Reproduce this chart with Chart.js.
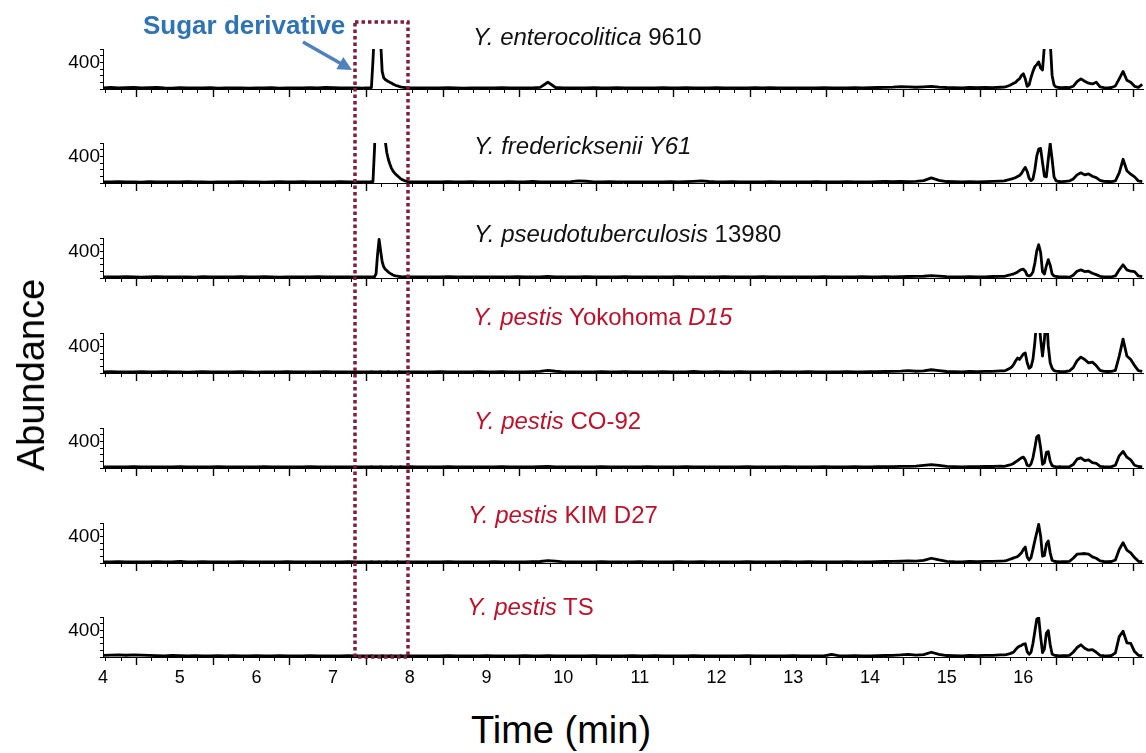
<!DOCTYPE html>
<html>
<head>
<meta charset="utf-8">
<script src="https://cdn.jsdelivr.net/npm/chart.js@4.4.1/dist/chart.umd.min.js"></script>
<style>
  html, body { margin: 0; padding: 0; background: #fff; }
  #fig { position: relative; width: 1146px; height: 753px; overflow: hidden; background: #fff;
         font-family: "Liberation Sans", Arial, Helvetica, sans-serif; }
  #fig canvas { position: absolute; left: 0; }
  .lbl { position: absolute; font-size: 24px; line-height: 1; white-space: nowrap; transform: translateY(-50%); }
  .axt { position: absolute; font-size: 38px; line-height: 1; white-space: nowrap; color: #000; }
  #overlay { pointer-events: none; }
</style>
</head>
<body>
<div id="fig"></div>
<script>
// ---------------- DATA ----------------
// retention time grid (min)
const retentionTimes = [
  4.0,4.1,4.2,4.3,4.4,4.5,4.6,4.7,4.8,4.9, 5.0,5.1,5.2,5.3,5.4,5.5,5.6,5.7,5.8,5.9,
  6.0,6.1,6.2,6.3,6.4,6.5,6.6,6.7,6.8,6.9, 7.0,7.1,7.2,7.3,7.4,
  7.42,7.44,7.46,7.48,7.50,7.52,7.54,7.56,7.58,7.60, 7.62,7.64,7.66,7.68,7.70,7.72,7.74,7.76,7.78,7.80,
  7.82,7.84,7.86,7.88,7.90,7.92,7.94,7.96,7.98,8.00,
  8.1,8.2,8.3,8.4,8.5,8.6,8.7,8.8,8.9,9.0,
  9.1,9.2,9.3,9.4,9.5,9.6,9.7,9.8,9.9,10.0,
  10.1,10.2,10.3,10.4,10.5,10.6,10.7,10.8,10.9,11.0,
  11.1,11.2,11.3,11.4,11.5,11.6,11.7,11.8,11.9,12.0,
  12.1,12.2,12.3,12.4,12.5,12.6,12.7,12.8,12.9,13.0,
  13.1,13.2,13.3,13.4,13.5,13.6,13.7,13.8,13.9,14.0,
  14.1,14.2,14.3,14.4,14.5,14.6,14.7,14.8,14.9,15.0,
  15.1,15.2,15.3,15.4,15.5,15.6,15.7,
  15.75,15.775,15.8,15.825,15.85,15.875,15.9,15.925,15.95,15.975,
  16.0,16.025,16.05,16.075,16.1,16.125,16.15,16.175,16.2,16.225,
  16.25,16.275,16.3,16.325,16.35,16.375,16.4,16.425,16.45,16.475, 16.5,
  16.55,16.6,16.65,16.7,16.75,16.8,16.85,16.9,16.95,17.0,
  17.05,17.1,17.15,17.2,17.25,17.3,17.35,17.4,17.45,17.5, 17.55
];

const enterocolitica9610 = [
  18,22,15,20,25,17,19,23,16,14, 20,18,15,17,19,14,16,18,15,13, 17,16,19,14,15,18,16,20,17,22, 19,15,18,16,14,
  16,15,17,18,22,420,900,1100,1100,1000, 700,260,165,140,125,110,98,88,75,62, 52,45,38,32,27,24,21,19,18,17,
  16,18,15,17,20,16,14,18,17,15,
  16,19,15,17,18,16,24,100,22,17,
  15,18,16,19,15,17,20,16,18,15,
  17,16,19,15,18,20,16,17,15,19,
  16,18,15,17,19,16,20,18,15,17,
  18,16,15,19,17,16,18,20,17,19,
  22,25,28,35,30,26,32,40,28,22,
  20,18,22,19,24,21,26,
  28,35,45,55,70,85,100,130,150,200, 225,150,40,60,170,260,330,360,400,310, 280,650,900,900,700,200,60,30,25,22, 20,
  22,20,40,110,150,115,85,75,100,30, 20,18,22,45,150,260,130,100,40,25, 70
];

const fredericksenii = [
  17,15,19,16,18,14,20,17,15,18, 16,19,15,17,14,18,16,15,19,17, 16,14,18,20,17,15,19,16,18,15, 17,20,16,18,15,
  16,18,15,17,19,20,500,1200,1300,1300, 1250,1150,1000,620,450,350,280,220,180,150, 125,105,85,65,50,40,30,25,20,18,
  17,15,18,16,19,15,17,20,16,18,
  15,17,19,16,18,22,17,15,18,16,
  20,32,26,18,16,19,15,17,18,16,
  15,18,16,19,17,20,24,30,22,17,
  16,19,15,18,17,16,20,17,15,18,
  17,16,19,15,18,17,20,16,18,17,
  19,22,20,24,21,25,35,75,40,22,
  19,17,21,18,20,24,28,
  30,38,45,55,60,70,80,95,110,140, 190,230,170,70,35,60,200,400,500,510, 300,100,90,350,580,350,90,35,25,22, 20,
  25,30,60,120,150,120,135,100,80,40, 25,22,20,30,150,350,180,130,90,30, 20
];

const pseudotuberculosis = [
  16,18,15,19,17,14,16,20,15,17, 18,16,14,19,17,15,18,16,20,15, 17,19,16,14,18,15,17,16,19,15, 18,16,17,15,18,
  17,15,18,16,17,15,18,60,350,570, 400,240,165,130,110,88,72,58,45,36, 30,26,22,20,18,17,19,16,18,17,
  16,18,15,17,19,16,18,15,17,16,
  18,15,17,19,16,18,17,22,18,16,
  15,17,19,16,18,15,17,20,16,18,
  17,15,18,16,19,17,15,18,16,17,
  19,16,18,15,17,20,16,18,17,15,
  18,16,17,19,15,18,16,17,19,16,
  18,20,17,19,22,24,26,35,28,20,
  18,17,19,16,18,22,25,
  25,30,38,45,55,62,75,90,110,125, 130,100,40,30,45,90,220,400,490,380, 90,60,180,270,190,60,30,22,20,18, 15,
  15,12,40,100,120,95,100,70,50,25, 18,15,18,30,120,195,120,100,95,30, 20
];

const pestisYokohoma = [
  17,19,15,18,16,20,17,15,19,16, 18,14,17,19,16,15,18,17,20,16, 14,18,15,17,19,16,18,15,17,20, 16,18,15,17,16,
  16,18,15,17,19,16,18,15,17,16, 19,15,18,17,16,19,15,18,17,16, 18,15,19,17,16,18,15,17,19,16,
  18,15,17,19,16,18,15,17,20,16,
  17,19,15,18,16,20,24,38,26,18,
  16,18,15,17,19,16,18,20,17,15,
  18,16,19,17,15,18,22,17,16,19,
  15,17,19,16,18,17,15,19,16,18,
  17,19,16,18,15,17,20,18,16,19,
  20,22,24,28,35,26,30,48,35,22,
  20,18,22,20,25,24,30,
  30,40,55,70,90,130,180,220,200,240, 280,295,150,70,90,200,450,800,850,500, 250,500,900,400,150,70,35,28,25,22, 20,
  22,30,80,180,235,200,150,160,110,40, 25,22,25,40,250,500,250,200,110,35, 25
];

const pestisCO92 = [
  16,18,15,17,19,16,15,18,17,16, 19,15,17,18,16,20,15,17,16,18, 15,19,17,16,18,15,17,19,16,18, 17,15,18,16,17,
  17,15,18,16,19,17,15,18,16,17, 19,16,18,15,17,16,18,19,16,15, 17,18,16,19,15,17,18,16,17,19,
  16,18,15,17,19,16,18,17,15,18,
  16,19,17,15,18,16,20,24,18,16,
  17,15,18,16,19,17,15,18,16,17,
  19,16,18,15,17,20,16,18,17,15,
  18,16,17,19,15,18,16,17,19,16,
  18,17,15,19,16,18,17,20,18,17,
  19,21,20,23,25,28,40,50,38,24,
  20,18,21,19,23,22,28,
  25,30,38,45,55,70,90,110,130,150, 160,120,40,30,60,150,300,460,480,300, 55,80,230,240,100,35,25,20,18,20, 17,
  18,20,50,130,150,110,120,80,70,25, 20,18,20,40,180,245,160,120,40,22, 18
];

const pestisKIMD27 = [
  17,15,19,16,18,15,17,20,16,18, 24,17,15,19,16,18,17,15,19,16, 18,15,17,16,19,15,18,17,16,18, 15,17,19,16,18,
  16,18,15,17,19,16,18,15,17,19, 16,18,17,15,19,16,18,17,15,16, 18,19,17,15,18,16,17,19,15,18,
  17,15,18,16,19,17,15,18,16,17,
  19,16,18,15,17,19,22,35,28,18,
  16,18,15,17,19,16,18,17,15,19,
  16,18,17,15,19,16,18,20,17,16,
  18,15,17,19,16,18,17,15,19,16,
  17,19,16,18,15,17,19,18,16,18,
  20,22,24,26,30,28,38,70,45,25,
  20,18,22,19,24,23,28,
  30,35,45,55,65,75,85,95,120,150, 200,235,90,45,80,200,330,450,570,400, 100,110,280,325,150,40,25,22,20,18, 20,
  20,25,70,130,135,140,130,90,70,30, 22,20,22,45,200,300,190,150,80,25, 20
];

const pestisTS = [
  25,28,30,26,32,28,24,20,18,22, 19,17,20,16,18,21,17,19,16,18, 20,17,15,19,16,18,17,20,16,18, 15,17,19,16,18,
  17,15,18,16,19,17,18,15,17,16, 18,19,16,17,15,18,16,19,17,15, 18,16,17,19,16,18,15,17,16,18,
  16,18,15,17,19,16,18,15,17,19,
  16,18,17,15,19,16,18,20,17,16,
  18,15,17,19,16,18,17,15,19,16,
  17,19,16,18,15,17,19,16,18,17,
  15,18,16,19,17,15,18,16,17,19,
  16,18,17,15,40,18,16,19,17,18,
  20,22,25,30,38,28,35,70,40,22,
  20,18,22,20,25,24,30,
  30,35,42,50,60,75,110,140,160,170, 190,195,80,40,70,200,380,560,580,300, 65,120,350,390,180,45,28,22,20,18, 20,
  20,25,70,140,180,130,100,110,70,25, 20,18,22,60,300,380,210,200,80,25, 20
];

// panel labels: [text, italic]
const panelLabels = [
  [["Y. enterocolitica", true], [" 9610", false]],
  [["Y. fredericksenii Y61", true]],
  [["Y. pseudotuberculosis", true], [" 13980", false]],
  [["Y. pestis", true], [" Yokohoma ", false], ["D15", true]],
  [["Y. pestis", true], [" CO-92", false]],
  [["Y. pestis", true], [" KIM D27", false]],
  [["Y. pestis", true], [" TS", false]]
];
const panelSeries = [enterocolitica9610, fredericksenii, pseudotuberculosis, pestisYokohoma, pestisCO92, pestisKIMD27, pestisTS];
const timeTickLabels = [4, 5, 6, 7, 8, 9, 10, 11, 12, 13, 14, 15, 16];
const abundanceTickLabels = [400];
const sugarWindow = [7.29, 7.98];

// ---------------- LAYOUT / STYLE ----------------
const FONT = '"Liberation Sans", Arial, Helvetica, sans-serif';
const W = 1146;
const FIRST_BASELINE = 88.5, PANEL_STEP = 94.8;
const AREA_H = 40, PAD_TOP = 10;
const X_MIN = 4, X_MAX = 17.56, Y_MIN = 0, Y_MAX = 590;
const labelLayout = [
  {left: 473, cy: 37}, {left: 474, cy: 146}, {left: 474, cy: 234}, {left: 473, cy: 317},
  {left: 474, cy: 421}, {left: 468, cy: 515}, {left: 467, cy: 607}
];
const labelColors = ['#111', '#111', '#111', '#c0102a', '#c0102a', '#c0102a', '#c0102a'];

const fig = document.getElementById('fig');

// tick marks under each panel (major + minor), drawn through the x scale,
// plus the abundance tick label(s), drawn through the y scale
const axisMarks = {
  id: 'axisMarks',
  afterDraw(chart) {
    const { ctx, chartArea, scales: { x, y } } = chart;
    ctx.save();
    ctx.strokeStyle = '#000';
    for (let k = 0; ; k++) {
      const v = 4.03 + k * 0.2;
      if (v > x.max) break;
      const px = Math.round(x.getPixelForValue(v)) + 0.5;
      const major = (k % 5 === 2);
      ctx.lineWidth = major ? 1.4 : 1;
      ctx.beginPath();
      ctx.moveTo(px, chartArea.bottom);
      ctx.lineTo(px, chartArea.bottom + (major ? 8 : 4));
      ctx.stroke();
    }
    ctx.fillStyle = '#000';
    ctx.font = '19px ' + FONT;
    ctx.textAlign = 'right';
    ctx.textBaseline = 'middle';
    abundanceTickLabels.forEach(v => {
      ctx.fillText(String(v), y.right - 3, y.getPixelForValue(v) + 1);
    });
    ctx.restore();
  }
};

const charts = [];
const tops = [];
panelSeries.forEach((vals, i) => {
  const baseline = Math.round(FIRST_BASELINE + i * PANEL_STEP);
  const isBottom = (i === panelSeries.length - 1);
  const axisH = isBottom ? 40 : 14;
  const canvas = document.createElement('canvas');
  canvas.width = W;
  canvas.height = PAD_TOP + AREA_H + axisH;
  canvas.style.width = W + 'px';
  canvas.style.height = canvas.height + 'px';
  const top = baseline - PAD_TOP - AREA_H;
  canvas.style.top = top + 'px';
  fig.appendChild(canvas);
  tops.push(top);

  const points = retentionTimes.map((t, j) => ({ x: t, y: vals[j] }));
  const chart = new Chart(canvas, {
    type: 'line',
    data: { datasets: [{ data: points, borderColor: '#000', borderWidth: 2.8, pointRadius: 0, tension: 0, fill: false,
                         borderJoinStyle: 'round' }] },
    options: {
      responsive: false, animation: false, devicePixelRatio: 1,
      layout: { padding: { top: PAD_TOP, right: 3, left: 0, bottom: 0 } },
      plugins: { legend: { display: false }, tooltip: { enabled: false } },
      scales: {
        x: {
          type: 'linear', min: X_MIN, max: X_MAX,
          afterFit(s) { s.height = axisH; },
          afterBuildTicks(s) { s.ticks = timeTickLabels.map(v => ({ value: v })); },
          ticks: { display: isBottom, autoSkip: false, maxRotation: 0, padding: 2, color: '#000',
                   font: { family: FONT, size: 18 }, callback: v => String(v) },
          grid: { display: true, drawOnChartArea: false, drawTicks: true, tickLength: 8, color: 'rgba(0,0,0,0)' },
          border: { display: true, color: '#000', width: 1 }
        },
        y: {
          min: Y_MIN, max: Y_MAX,
          afterFit(s) { s.width = 103; },
          ticks: { display: false, stepSize: 100, includeBounds: false, autoSkip: false },
          grid: { drawOnChartArea: false, drawTicks: true, tickLength: 3, color: '#000' },
          border: { display: true, color: '#000', width: 1 }
        }
      }
    },
    plugins: [axisMarks]
  });
  charts.push(chart);
});

// panel labels
panelLabels.forEach((parts, i) => {
  const d = document.createElement('div');
  d.className = 'lbl';
  d.style.left = labelLayout[i].left + 'px';
  d.style.top = labelLayout[i].cy + 'px';
  d.style.color = labelColors[i];
  parts.forEach(([txt, it]) => {
    const s = document.createElement('span');
    s.textContent = txt;
    if (it) s.style.fontStyle = 'italic';
    d.appendChild(s);
  });
  fig.appendChild(d);
});

// axis titles
const yTitle = document.createElement('div');
yTitle.className = 'axt';
yTitle.textContent = 'Abundance';
yTitle.style.left = '31px'; yTitle.style.top = '375px';
yTitle.style.transform = 'translate(-50%,-50%) rotate(-90deg)';
fig.appendChild(yTitle);

const xTitle = document.createElement('div');
xTitle.className = 'axt';
xTitle.textContent = 'Time (min)';
xTitle.style.left = '561px'; xTitle.style.top = '730px';
xTitle.style.transform = 'translate(-50%,-50%)';
fig.appendChild(xTitle);

// annotation text
const sugar = document.createElement('div');
sugar.textContent = 'Sugar derivative';
sugar.style.cssText = 'position:absolute;left:143px;top:25px;transform:translateY(-50%);font-size:26px;font-weight:bold;color:#2e74b5;line-height:1;white-space:nowrap;';
fig.appendChild(sugar);

// overlay: dotted box + arrow
const ov = document.createElement('canvas');
ov.id = 'overlay';
ov.width = W; ov.height = 753;
ov.style.top = '0px';
fig.appendChild(ov);
const octx = ov.getContext('2d');
const bottomChart = charts[charts.length - 1];
const bx = bottomChart.scales.x;
const boxL = Math.round(bx.getPixelForValue(sugarWindow[0]));
const boxR = Math.round(bx.getPixelForValue(sugarWindow[1]));
const boxB = tops[tops.length - 1] + bottomChart.chartArea.bottom;
const boxT = 22;
octx.save();
octx.strokeStyle = '#821c3c';
octx.lineWidth = 3.5;
octx.setLineDash([3.5, 3]);
octx.strokeRect(boxL, boxT, boxR - boxL, boxB - boxT);
octx.restore();

// arrow
const ax0 = 303, ay0 = 42, ax1 = boxL - 3, ay1 = 70;
const ang = Math.atan2(ay1 - ay0, ax1 - ax0);
octx.save();
octx.strokeStyle = '#4f81bd';
octx.fillStyle = '#4f81bd';
octx.lineWidth = 3.5;
octx.beginPath();
octx.moveTo(ax0, ay0);
octx.lineTo(ax1 - 10 * Math.cos(ang), ay1 - 10 * Math.sin(ang));
octx.stroke();
octx.beginPath();
octx.moveTo(ax1, ay1);
octx.lineTo(ax1 - 14 * Math.cos(ang) + 7 * Math.sin(ang), ay1 - 14 * Math.sin(ang) - 7 * Math.cos(ang));
octx.lineTo(ax1 - 14 * Math.cos(ang) - 7 * Math.sin(ang), ay1 - 14 * Math.sin(ang) + 7 * Math.cos(ang));
octx.closePath();
octx.fill();
octx.restore();
</script>
</body>
</html>
